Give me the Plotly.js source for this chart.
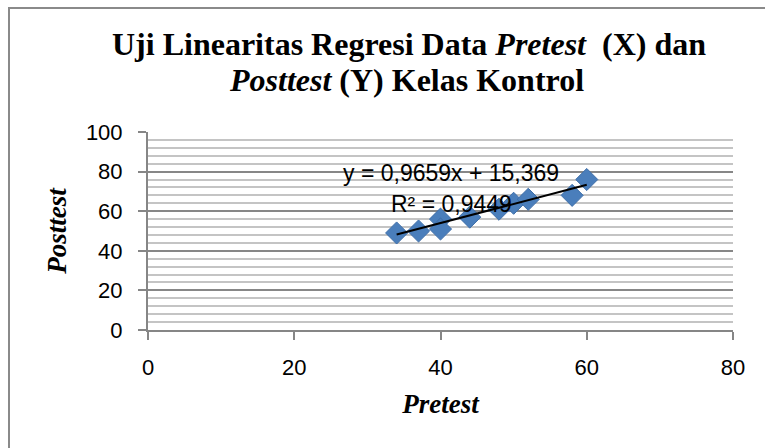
<!DOCTYPE html>
<html>
<head>
<meta charset="utf-8">
<script src="https://cdn.plot.ly/plotly-3.0.1.min.js"></script>
<style>
html,body{margin:0;padding:0;background:#fff;}
#chart{width:765px;height:448px;}
</style>
</head>
<body>
<div id="chart"></div>
<script>
// Data
var pretest  = [34, 37, 40, 40, 44, 48, 50, 52, 58, 60];
var posttest = [49, 50, 56, 51, 57, 61, 64, 66, 68, 76];
var slope = 0.9659;
var intercept = 15.369;
var r2Label = "R² = 0,9449";
var eqLabel = "y = 0,9659x + 15,369";
var titleLine1 = "<b>Uji Linearitas Regresi Data <i>Pretest</i>  (X) dan</b>";
var titleLine2 = "<b><i>Posttest</i> (Y) Kelas Kontrol</b>";
var xTicks = [0, 20, 40, 60, 80];
var yTicks = [0, 20, 40, 60, 80, 100];

var xMin = Math.min.apply(null, pretest);
var xMax = Math.max.apply(null, pretest);
var trendX = [xMin, xMax];
var trendY = trendX.map(function(v){ return slope * v + intercept; });

var serif = "Liberation Serif, Times New Roman, serif";
var sans = "Liberation Sans, Arial, sans-serif";

var traces = [
  {
    x: pretest, y: posttest, type: 'scatter', mode: 'markers',
    marker: {symbol: 'diamond', size: 17, color: '#4a7ebb', line: {color: '#3e6ea8', width: 1}},
    hoverinfo: 'x+y', showlegend: false
  },
  {
    x: trendX, y: trendY, type: 'scatter', mode: 'lines',
    line: {color: '#000000', width: 2}, hoverinfo: 'skip', showlegend: false
  }
];

var H = 448, W = 765;
var layout = {
  width: W, height: H,
  margin: {l: 148, r: 32, t: 132, b: 118, pad: 0},
  paper_bgcolor: '#ffffff', plot_bgcolor: '#ffffff',
  showlegend: false,
  xaxis: {
    range: [0, 80], tickvals: xTicks, ticktext: xTicks.map(String),
    showgrid: false, zeroline: false,
    showline: true, linecolor: '#868686', linewidth: 2,
    ticks: 'outside', ticklen: 8, tickwidth: 2, tickcolor: '#868686',
    ticklabelstandoff: 9,
    tickfont: {family: sans, size: 22, color: '#000000'},
    title: {text: '<b><i>Pretest</i></b>', font: {family: serif, size: 27, color: '#000000'}, standoff: 15},
    fixedrange: true
  },
  yaxis: {
    range: [0, 100], tickvals: yTicks, ticktext: yTicks.map(String),
    showgrid: true, gridcolor: '#878787', gridwidth: 2,
    minor: {dtick: 4, showgrid: true, gridcolor: '#c4c4c4', gridwidth: 2, ticks: ''},
    zeroline: false,
    showline: true, linecolor: '#868686', linewidth: 2,
    ticks: 'outside', ticklen: 8, tickwidth: 2, tickcolor: '#868686',
    ticklabelstandoff: 11,
    tickfont: {family: sans, size: 22, color: '#000000'},
    title: {text: '<b><i>Posttest</i></b>', font: {family: serif, size: 27, color: '#000000'}, standoff: 11},
    fixedrange: true
  },
  annotations: [
    {xref: 'paper', yref: 'paper', x: (409 - 148) / 585, y: (H - 118 - 44) / 198, text: titleLine1,
     showarrow: false, xanchor: 'center', yanchor: 'middle',
     font: {family: serif, size: 32, color: '#000000'}},
    {xref: 'paper', yref: 'paper', x: (406 - 148) / 585, y: (H - 118 - 80) / 198, text: titleLine2,
     showarrow: false, xanchor: 'center', yanchor: 'middle',
     font: {family: serif, size: 32, color: '#000000'}},
    {xref: 'x', yref: 'y', x: 41.5, y: 79.4, text: eqLabel, showarrow: false,
     xanchor: 'center', yanchor: 'middle', font: {family: sans, size: 23, color: '#000000'}},
    {xref: 'x', yref: 'y', x: 41.5, y: 63.7, text: r2Label, showarrow: false,
     xanchor: 'center', yanchor: 'middle', font: {family: sans, size: 23, color: '#000000'}}
  ],
  shapes: [
    {type: 'rect', xref: 'paper', yref: 'paper',
     x0: (9 - 148) / 585, x1: (900 - 148) / 585,
     y0: (330 - 600) / 198, y1: (330 - 8) / 198,
     line: {color: '#8a8a8a', width: 2}, fillcolor: 'rgba(0,0,0,0)', layer: 'below'}
  ]
};

Plotly.newPlot('chart', traces, layout, {displayModeBar: false, staticPlot: true});
</script>
</body>
</html>
